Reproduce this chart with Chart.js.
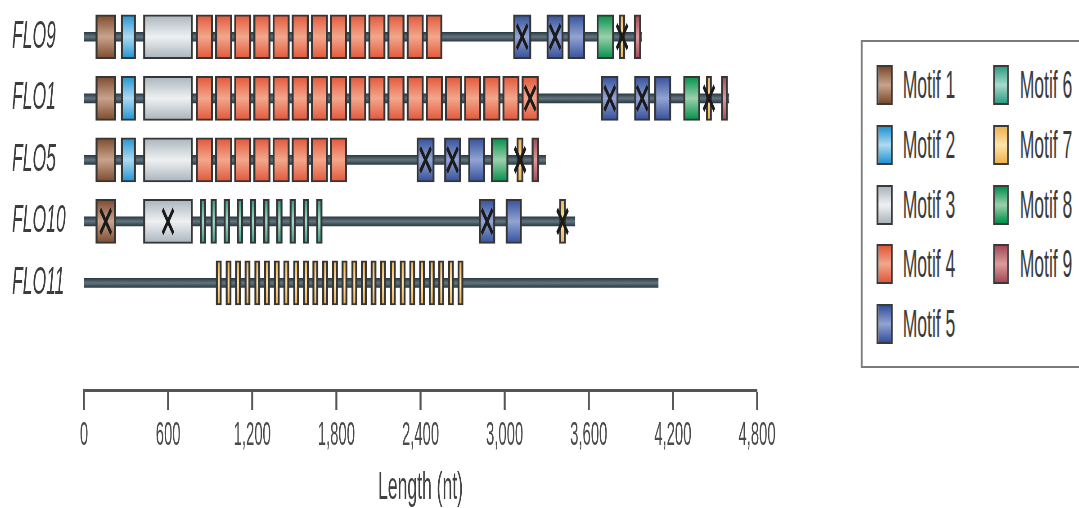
<!DOCTYPE html>
<html><head><meta charset="utf-8">
<script src="https://cdn.jsdelivr.net/npm/chart.js@4.4.1/dist/chart.umd.min.js"></script>
<style>
html,body{margin:0;padding:0;background:#fff;overflow:hidden;width:1079px;height:508px;}
#wrap{position:absolute;left:0;top:0;width:2398px;height:508px;transform:scaleX(0.45);transform-origin:0 0;overflow:hidden;background:#fff;}
#chart{position:absolute;left:0;top:0;}
#legend{position:absolute;left:1913px;top:40px;width:540px;height:328px;box-sizing:border-box;border:2px solid #7a7a7a;border-left-width:4.4px;}
.sw{position:absolute;width:35.6px;height:40px;box-sizing:border-box;border-style:solid;border-color:#3a3a3a;border-width:2px 4.4px;}
.lt{position:absolute;font:39px 'Liberation Sans',Arial,sans-serif;line-height:40px;color:#3a3a3a;white-space:nowrap;}
</style></head><body>
<div id="wrap"><canvas id="chart" width="1778" height="508"></canvas><div id="legend"></div></div>
<script>
// ---------- data ----------
const genes = ['FLO9', 'FLO1', 'FLO5', 'FLO10', 'FLO11'];
const geneLength = [3978, 4600, 3293, 3502, 4096];
const motifNames = ['Motif 1', 'Motif 2', 'Motif 3', 'Motif 4', 'Motif 5', 'Motif 6', 'Motif 7', 'Motif 8', 'Motif 9'];
const xTickValues = [0, 600, 1200, 1800, 2400, 3000, 3600, 4200, 4800];
const xTickLabels = ['0', '600', '1,200', '1,800', '2,400', '3,000', '3,600', '4,200', '4,800'];
const xTitle = 'Length (nt)';

// [gene row, start nt, end nt]
const motif1 = [[0, 83, 228], [1, 83, 228], [2, 83, 228], [3, 83, 228]];
const motif2 = [[0, 264, 369], [1, 264, 369], [2, 264, 369]];
const motif3 = [[0, 423, 775], [1, 423, 775], [2, 423, 775], [3, 423, 775]];
const motif4 = [
  [0, 799, 919], [0, 936, 1056], [0, 1072, 1192], [0, 1209, 1329], [0, 1346, 1466], [0, 1482, 1602], [0, 1619, 1739],
  [0, 1755, 1875], [0, 1892, 2012], [0, 2029, 2149], [0, 2165, 2285], [0, 2302, 2422], [0, 2439, 2555],
  [1, 799, 919], [1, 936, 1056], [1, 1072, 1192], [1, 1209, 1329], [1, 1346, 1466], [1, 1482, 1602], [1, 1619, 1739],
  [1, 1755, 1875], [1, 1892, 2012], [1, 2029, 2149], [1, 2165, 2285], [1, 2302, 2422], [1, 2439, 2559],
  [1, 2575, 2695], [1, 2712, 2832], [1, 2849, 2969], [1, 2985, 3105], [1, 3122, 3242],
  [2, 799, 919], [2, 936, 1056], [2, 1072, 1192], [2, 1209, 1329], [2, 1346, 1466], [2, 1482, 1602], [2, 1619, 1739],
  [2, 1755, 1875]
];
const motif5 = [[0, 3062, 3189], [0, 3300, 3419], [0, 3450, 3573], [1, 3688, 3811], [1, 3925, 4037], [1, 4068, 4187],
  [2, 2373, 2499], [2, 2570, 2687], [2, 2741, 2860], [3, 2817, 2932], [3, 3008, 3122]];
const motif6 = [[3, 827, 870], [3, 904, 946], [3, 997, 1040], [3, 1091, 1134], [3, 1184, 1227], [3, 1279, 1322],
  [3, 1372, 1415], [3, 1467, 1510], [3, 1562, 1605], [3, 1657, 1700]];
const motif7 = [[0, 3816, 3859], [1, 4437, 4477], [2, 3086, 3133], [3, 3390, 3436],
  [4, 941, 981], [4, 1011, 1051], [4, 1078, 1118], [4, 1146, 1186], [4, 1216, 1256], [4, 1285, 1325], [4, 1355, 1395],
  [4, 1423, 1463], [4, 1493, 1533], [4, 1563, 1603], [4, 1630, 1670], [4, 1700, 1740], [4, 1770, 1810], [4, 1838, 1878],
  [4, 1908, 1948], [4, 1976, 2016], [4, 2045, 2085], [4, 2113, 2153], [4, 2183, 2223], [4, 2253, 2293], [4, 2321, 2361],
  [4, 2391, 2431], [4, 2460, 2500], [4, 2528, 2568], [4, 2597, 2637], [4, 2665, 2705]];
const motif8 = [[0, 3657, 3780], [1, 4275, 4394], [2, 2903, 3026]];
const motif9 = [[0, 3923, 3973], [1, 4544, 4591], [2, 3193, 3245]];
// [gene row, position nt] of crossed-out motifs
const crossMarks = [[0, 3125], [0, 3360], [0, 3838], [1, 3182], [1, 3750], [1, 3981], [1, 4457],
  [2, 2436], [2, 2628], [2, 3110], [3, 155], [3, 599], [3, 2875], [3, 3413]];

// ---------- style ----------
const S = 0.45; // horizontal squeeze of the whole figure
const motifEdge = ['#7c4a2c', '#1f93d2', '#aab4bc', '#e2573a', '#34509b', '#2f9d85', '#efb24e', '#00904a', '#a24858'];
const motifMid  = ['#c9a38d', '#aedbf1', '#eef1f3', '#f3a78c', '#93a4d3', '#a6dacb', '#ffe2ab', '#9bd0ac', '#dc9c9c'];
const motifSets = [motif1, motif2, motif3, motif4, motif5, motif6, motif7, motif8, motif9];
const FONT = "'Liberation Sans', Arial, sans-serif";

function vgrad(c, edge, mid, half) {
  const ch = c.chart, ys = ch.scales && ch.scales.y;
  if (!ys || !c.parsed || c.parsed.y === undefined) return mid;
  const py = ys.getPixelForValue(c.parsed.y);
  if (!isFinite(py)) return mid;
  const g = ch.ctx.createLinearGradient(0, py - half, 0, py + half);
  g.addColorStop(0, edge); g.addColorStop(0.5, mid); g.addColorStop(1, edge);
  return g;
}

const datasets = motifSets.map((spans, k) => ({
  type: 'bar', label: motifNames[k], indexAxis: 'y', grouped: false,
  data: spans.map(s => ({ x: [s[1], s[2]], y: s[0] })),
  backgroundColor: c => vgrad(c, motifEdge[k], motifMid[k], 22),
  borderColor: '#363636',
  borderWidth: { top: 2, bottom: 2, left: 2 / S, right: 2 / S },
  borderSkipped: false, barThickness: 44, order: 1
}));
datasets.push({
  type: 'bar', label: 'backbone', indexAxis: 'y', grouped: false,
  data: genes.map((g, i) => ({ x: [0, geneLength[i]], y: i })),
  backgroundColor: c => vgrad(c, '#2c3b44', '#62757f', 4.5),
  borderWidth: 0, barThickness: 9, order: 2
});
datasets.push({
  type: 'scatter', label: 'crossed', 
  data: crossMarks.map(m => ({ x: m[1], y: m[0] })),
  pointStyle: 'crossRot', pointRadius: 17, pointHoverRadius: 17, pointBorderWidth: 5,
  borderColor: '#1b1b1b', backgroundColor: 'rgba(0,0,0,0)', showLine: false, order: 0
});

new Chart(document.getElementById('chart'), {
  type: 'bar',
  data: { datasets },
  options: {
    responsive: false, animation: false, devicePixelRatio: 1,
    layout: { autoPadding: false, padding: { left: 12 / S, right: 1778 - 757 / S, top: 6, bottom: 0 } },
    plugins: { legend: { display: false }, tooltip: { enabled: false } },
    scales: {
      x: {
        type: 'linear', position: 'bottom', min: 0, max: 4800, offset: false,
        afterBuildTicks: a => { a.ticks = xTickValues.map(v => ({ value: v })); },
        afterFit: a => { a.height = 508 - 390; },
        grid: { offset: false, drawOnChartArea: false, drawTicks: true, tickLength: 20, tickWidth: 2 / S, tickColor: '#555' },
        border: { display: true, color: '#555', width: 3 },
        ticks: { autoSkip: false, maxRotation: 0, padding: 6, color: '#4a4a4a',
          font: { family: FONT, size: 33 }, callback: (v, i) => xTickLabels[i] },
        title: { display: true, text: xTitle, color: '#404040', padding: { top: 0, bottom: 0 },
          font: { family: FONT, size: 39, lineHeight: 1 } }
      },
      y: {
        type: 'linear', reverse: true, min: -0.5, max: 5.74, offset: false,
        afterBuildTicks: a => { a.ticks = genes.map((g, i) => ({ value: i })); },
        afterFit: a => { a.width = 72 / S; a.paddingTop = 0; a.paddingBottom = 0; },
        grid: { offset: false, display: false, drawTicks: false },
        border: { display: false },
        ticks: { autoSkip: false, crossAlign: 'far', padding: 0, color: '#3c3c3c',
          font: { family: FONT, size: 39, style: 'italic', lineHeight: 0.25 }, callback: (v) => genes[v] }
      }
    }
  }
});

// ---------- legend ----------
const legend = document.getElementById('legend');
const legendCols = [[0, 1, 2, 3, 4], [5, 6, 7, 8]];
const colSwatchX = [31.2, 289.6], colTextX = [88.9, 349];
legendCols.forEach((col, ci) => col.forEach((k, r) => {
  const cy = 43 + r * 59.8;
  const sw = document.createElement('div');
  sw.className = 'sw';
  sw.style.left = colSwatchX[ci] + 'px';
  sw.style.top = (cy - 20) + 'px';
  sw.style.background = `linear-gradient(to bottom, ${motifEdge[k]}, ${motifMid[k]} 50%, ${motifEdge[k]})`;
  legend.appendChild(sw);
  const t = document.createElement('div');
  t.className = 'lt';
  t.style.left = colTextX[ci] + 'px';
  t.style.top = (cy - 20) + 'px';
  t.textContent = motifNames[k];
  legend.appendChild(t);
}));
</script></body></html>
